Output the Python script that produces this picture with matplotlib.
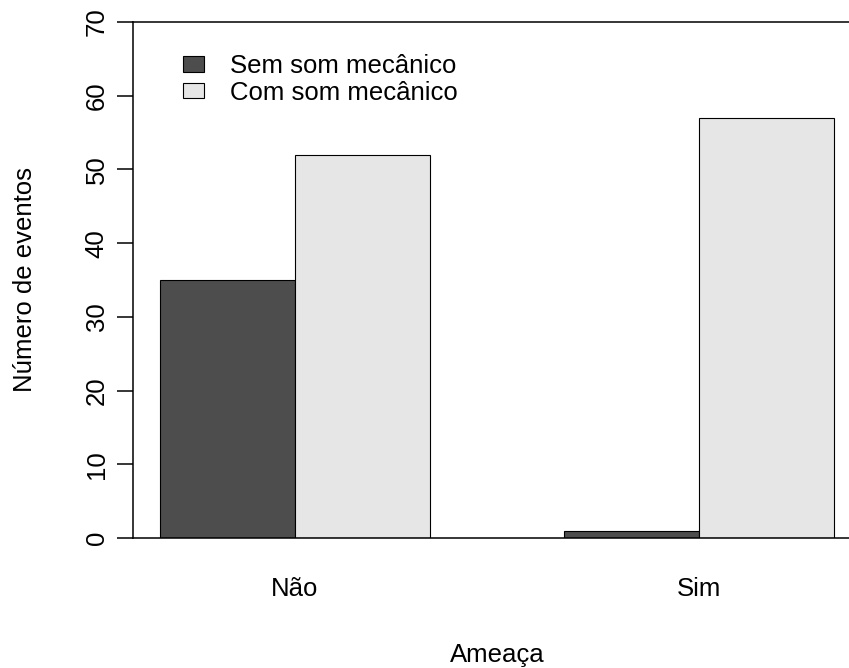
import matplotlib
matplotlib.use("Agg")
import matplotlib.pyplot as plt
from matplotlib.patches import Patch

categories = ["Não", "Sim"]
series_names = ["Sem som mecânico", "Com som mecânico"]
sem_som = [35, 1]
com_som = [52, 57]
y_ticks = [0, 10, 20, 30, 40, 50, 60, 70]

DARK, LIGHT = "#4D4D4D", "#E6E6E6"
FS = 18.5

plt.rcParams["font.family"] = ["Liberation Sans", "DejaVu Sans"]

fig = plt.figure(figsize=(8.49, 6.68), dpi=100)
# R-like plot region; right edge runs slightly off the picture (as in the original)
ax = fig.add_axes([133 / 849, 130 / 668, (861 - 133) / 849, 516 / 668])

# barplot(beside=TRUE): bars width 1, space c(0, 1)
pos_sem = [1.5 + 3 * i for i in range(len(categories))]
pos_com = [2.5 + 3 * i for i in range(len(categories))]
ax.bar(pos_sem, sem_som, width=1.0, color=DARK, edgecolor="black", linewidth=0.8)
ax.bar(pos_com, com_som, width=1.0, color=LIGHT, edgecolor="black", linewidth=0.8)

ax.set_xlim(0.8, 6.2)
ax.set_ylim(0, 70)
ax.set_xticks([2 + 3 * i for i in range(len(categories))])
ax.set_xticklabels(categories, fontsize=FS)
ax.set_yticks(y_ticks)
ax.set_yticklabels([str(v) for v in y_ticks], fontsize=FS, rotation=90, va="center")
ax.tick_params(axis="x", length=0, pad=28)
ax.tick_params(axis="y", length=11.5, width=1.1, pad=6)

for side in ["left", "top", "bottom"]:
    ax.spines[side].set_linewidth(1.1)
ax.spines["right"].set_visible(False)

ax.set_xlabel("Ameaça", fontsize=FS, labelpad=30)
ax.set_ylabel("Número de eventos", fontsize=FS, labelpad=34)

handles = [Patch(facecolor=DARK, edgecolor="black", linewidth=0.8),
           Patch(facecolor=LIGHT, edgecolor="black", linewidth=0.8)]
ax.legend(handles, series_names, loc="upper left", bbox_to_anchor=(0.055, 0.958),
          frameon=False, fontsize=FS, handlelength=0.8, handleheight=0.55,
          handletextpad=1.0, labelspacing=0.1, borderaxespad=0)

fig.savefig("out.png", dpi=100)
